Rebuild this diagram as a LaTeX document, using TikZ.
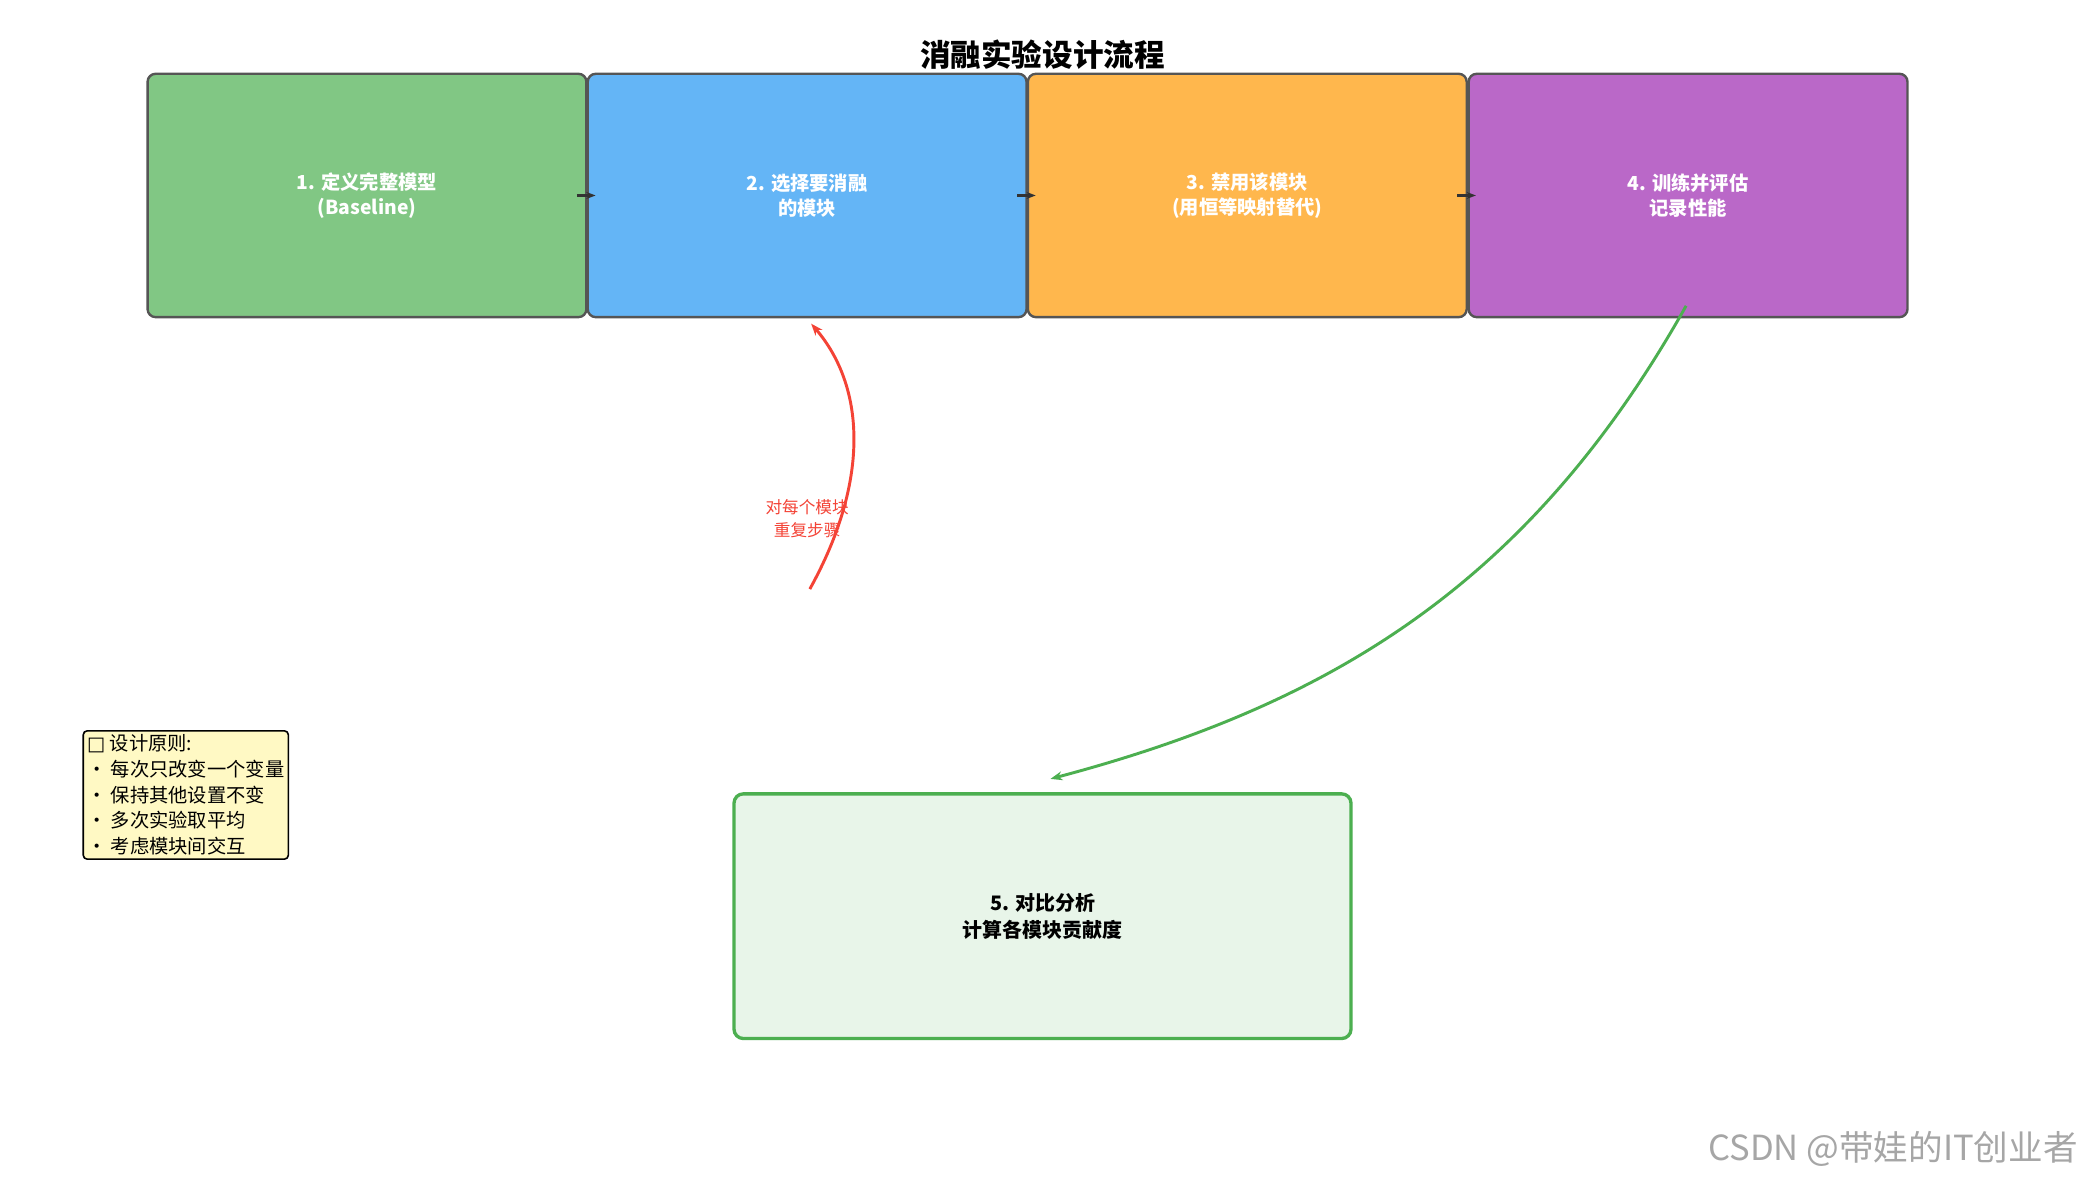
\documentclass[tikz,border=0pt]{standalone}
\usepackage{fontspec}
\setmainfont{Noto Sans CJK SC}
\newfontfamily\djv{DejaVu Sans}
\usetikzlibrary{arrows.meta}
\definecolor{cg}{HTML}{81C784}
\definecolor{cb}{HTML}{64B5F6}
\definecolor{co}{HTML}{FFB74D}
\definecolor{cp}{HTML}{BA68C8}
\definecolor{bd}{HTML}{555555}
\definecolor{g5}{HTML}{E8F5E9}
\definecolor{gl}{HTML}{4CAF50}
\definecolor{rd}{HTML}{F44336}
\definecolor{ny}{HTML}{FFF9C4}
\begin{document}
\begin{tikzpicture}[x=1pt,y=-1pt,
 stepbox/.style={draw=bd,line width=1.8pt,rounded corners=6pt,minimum width=330pt,minimum height=183pt,text=white,font=\fontsize{14.5}{19}\selectfont\bfseries,align=center,inner sep=0},
 conn/.style={-{Stealth[length=7pt]},draw=bd!60!black,line width=2pt}]
\useasboundingbox[fill=white] (0,0) rectangle (1568,891);
\node[font=\fontsize{23}{26}\selectfont\bfseries] (t) at (784,41) {消融实验设计流程};
\node[stepbox,fill=cg] (a) at (276,147) {1. 定义完整模型\\(Baseline)};
\node[stepbox,fill=cb] (b) at (607,147) {2. 选择要消融\\的模块};
\node[stepbox,fill=co] (c) at (938,147) {3. 禁用该模块\\(用恒等映射替代)};
\node[stepbox,fill=cp] (d) at (1269.5,147) {4. 训练并评估\\记录性能};
\node[draw=gl,fill=g5,line width=2.5pt,rounded corners=7pt,minimum width=464pt,minimum height=184pt,font=\fontsize{15}{20}\selectfont\bfseries,align=center] (e) at (784,689) {5. 对比分析\\计算各模块贡献度};
\draw[conn] ([xshift=-8pt]a.east) -- ([xshift=6pt]a.east);
\draw[conn] ([xshift=-8pt]b.east) -- ([xshift=6pt]b.east);
\draw[conn] ([xshift=-8pt]c.east) -- ([xshift=6pt]c.east);
\coordinate (r0) at (609,443);
\coordinate (g0) at (1268,230);
\draw[-{Stealth[length=9pt]},rd,line width=2.2pt] (r0) .. controls (655,360) and (650,290) .. ([xshift=3pt,yshift=-4pt]b.south);
\draw[-{Stealth[length=9pt]},gl,line width=2.2pt] (g0) .. controls (1150,440) and (1000,530) .. ([xshift=6pt,yshift=10pt]e.north);
\node[text=rd,font=\fontsize{12.5}{17}\selectfont,align=center] (rl) at (607,390) {对每个模块\\重复步骤};
\node[draw=black,fill=ny,rounded corners=3pt,line width=1.2pt,align=left,font=\fontsize{14.5}{19.3}\selectfont,inner sep=3pt,anchor=north west] (n) at (62,549) {{\djv□} 设计原则:\\• 每次只改变一个变量\\• 保持其他设置不变\\• 多次实验取平均\\• 考虑模块间交互};
\node[text=gray!70,font=\fontsize{26}{30}\selectfont,anchor=east] (w) at (1566,864) {CSDN @带娃的IT创业者};
\end{tikzpicture}
\end{document}
